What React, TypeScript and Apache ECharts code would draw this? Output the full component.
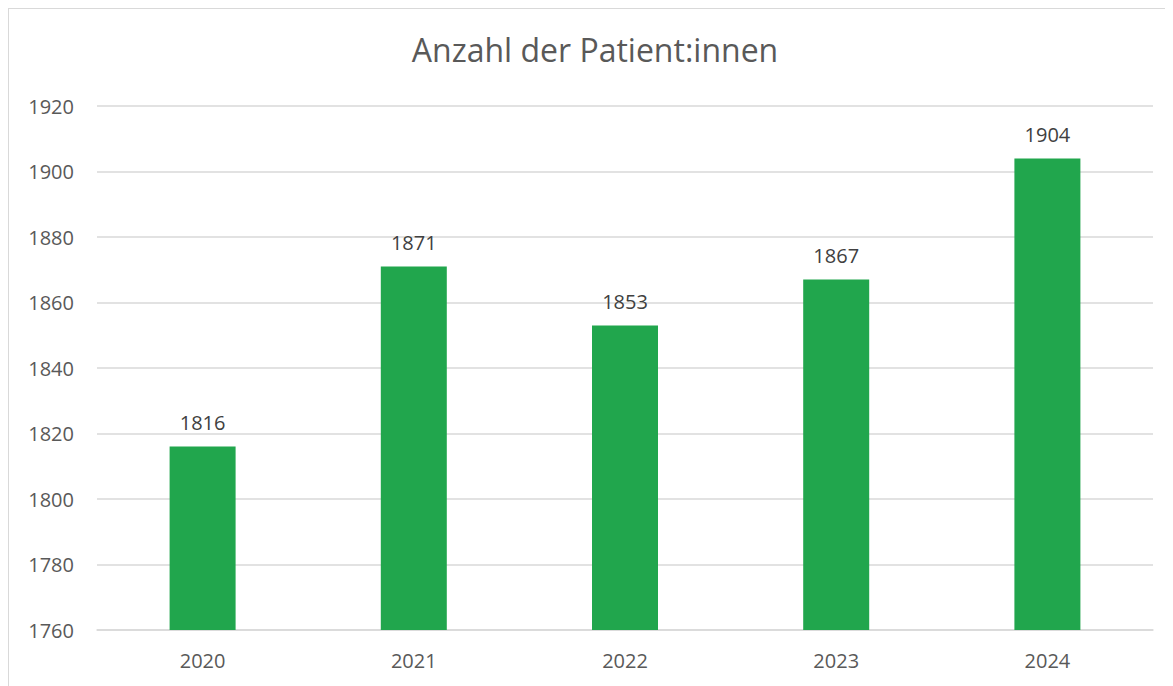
import React, { useEffect, useRef } from "react";
import * as echarts from "echarts";

const title = "Anzahl der Patient:innen";
const categories = ["2020", "2021", "2022", "2023", "2024"];
const values = [1816, 1871, 1853, 1867, 1904];
const yMin = 1760;
const yMax = 1920;
const yStep = 20;

export default function App() {
  const ref = useRef<HTMLDivElement>(null);
  useEffect(() => {
    if (!ref.current) return;
    const chart = echarts.init(ref.current, null, { renderer: "svg" });
    const font = "'Open Sans', sans-serif";
    chart.setOption({
      animation: false,
      backgroundColor: "#ffffff",
      title: {
        text: title,
        left: 590 - 9,
        textAlign: "center",
        top: 19,
        textStyle: { fontFamily: font, fontSize: 32, fontWeight: "normal", color: "#595959" },
      },
      grid: { left: 88, top: 97, width: 1056, height: 524 },
      xAxis: {
        type: "category",
        data: categories,
        axisLine: { lineStyle: { color: "#d9d9d9", width: 1.5 } },
        axisTick: { show: false },
        axisLabel: { fontFamily: font, fontSize: 20, color: "#595959", margin: 20 },
      },
      yAxis: {
        type: "value",
        min: yMin,
        max: yMax,
        interval: yStep,
        axisLine: { show: false },
        axisTick: { show: false },
        splitLine: { lineStyle: { color: "#d9d9d9", width: 1.5 } },
        axisLabel: {
          fontFamily: font,
          fontSize: 20,
          color: "#595959",
          margin: 23,
          formatter: (v: number) => String(v),
        },
      },
      series: [
        {
          type: "bar",
          data: values,
          barWidth: 66,
          itemStyle: { color: "#21A64D" },
          label: {
            show: true,
            position: "top",
            distance: 14,
            fontFamily: font,
            fontSize: 20,
            color: "#404040",
          },
        },
      ],
    });
    return () => chart.dispose();
  }, []);
  return (
    <div style={{ border: "1px solid #d9d9d9", width: 1170, height: 690 }}>
      <div ref={ref} style={{ width: 1170, height: 690 }} />
    </div>
  );
}
